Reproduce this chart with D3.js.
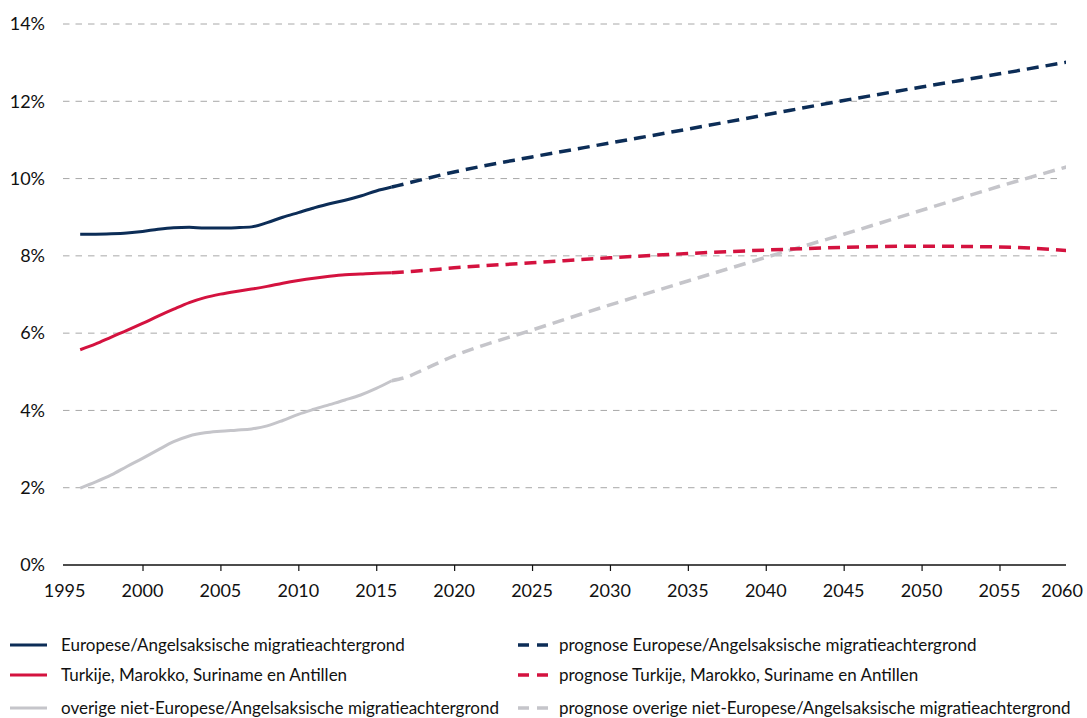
<!DOCTYPE html>
<html>
<head>
<meta charset="utf-8">
<script src="https://cdn.jsdelivr.net/npm/d3@7"></script>
<style>
  body { margin: 0; background: #fff; }
  svg { font-family: "Lato", "Open Sans", sans-serif; }
</style>
</head>
<body>
<script>
var histYears = [1996, 1997, 1998, 1999, 2000, 2001, 2002, 2003, 2004, 2005, 2006,
                 2007, 2008, 2009, 2010, 2011, 2012, 2013, 2014, 2015, 2016];
var histEuropees = [8.56, 8.56, 8.57, 8.59, 8.63, 8.69, 8.73, 8.74, 8.72, 8.72, 8.73,
                    8.75, 8.86, 9.00, 9.12, 9.24, 9.35, 9.44, 9.55, 9.68, 9.78];
var histTMSA = [5.57, 5.72, 5.90, 6.07, 6.25, 6.44, 6.62, 6.79, 6.92, 7.01, 7.08,
                7.14, 7.21, 7.29, 7.36, 7.42, 7.47, 7.51, 7.53, 7.55, 7.56];
var histOverig = [1.99, 2.15, 2.33, 2.55, 2.76, 2.98, 3.19, 3.34, 3.42, 3.46, 3.49,
                  3.52, 3.60, 3.74, 3.90, 4.03, 4.15, 4.27, 4.40, 4.57, 4.77];

var progYears = [2016, 2017, 2018, 2020, 2025, 2030, 2035, 2040, 2045, 2050, 2055, 2060];
var progEuropees = [9.78, 9.88, 9.98, 10.17, 10.56, 10.92, 11.28, 11.65, 12.02, 12.37, 12.71, 13.06];
var progTMSA = [7.56, 7.59, 7.62, 7.69, 7.82, 7.95, 8.06, 8.15, 8.22, 8.25, 8.23, 8.12];
var progOverig = [4.77, 4.87, 5.05, 5.41, 6.08, 6.73, 7.35, 7.96, 8.56, 9.18, 9.80, 10.38];

var xTicks = [1995, 2000, 2005, 2010, 2015, 2020, 2025, 2030, 2035, 2040, 2045, 2050, 2055, 2060];
var yTicks = [0, 2, 4, 6, 8, 10, 12, 14];

var legendLabels = [
  "Europese/Angelsaksische migratieachtergrond",
  "Turkije, Marokko, Suriname en Antillen",
  "overige niet-Europese/Angelsaksische migratieachtergrond"
];

var colors = ["#0c2d57", "#d4123f", "#c5c5ca"];

var svg = d3.select("body").append("svg")
      .attr("width", 1087)
      .attr("height", 718);

var x = d3.scaleLinear().domain([1995, 2060]).range([64.6, 1077.4]),
    y = d3.scaleLinear().domain([0, 14]).range([565, 24]);

var plotLeft = 63, plotRight = 1066;

svg.append("clipPath").attr("id", "clip")
  .append("rect")
    .attr("x", 0).attr("y", 0)
    .attr("width", plotRight).attr("height", 718);

// gridlines
svg.append("g")
  .selectAll("line")
  .data(yTicks.filter(function(d) { return d > 0; }))
  .enter().append("line")
    .attr("x1", plotLeft)
    .attr("x2", 1062)
    .attr("y1", function(d) { return y(d); })
    .attr("y2", function(d) { return y(d); })
    .attr("stroke", "#a8a8a8")
    .attr("stroke-width", 1)
    .attr("stroke-dasharray", "6.5,6");

// y labels
svg.append("g")
  .selectAll("text")
  .data(yTicks)
  .enter().append("text")
    .attr("x", 45)
    .attr("y", function(d) { return y(d); })
    .attr("dy", "0.35em")
    .attr("text-anchor", "end")
    .attr("font-size", 18)
    .attr("fill", "#111")
    .text(function(d) { return d + "%"; });

// x axis
var xAxis = d3.axisBottom(x)
    .tickValues(xTicks.slice(1, -1))
    .tickSize(6)
    .tickFormat("");

var xGroup = svg.append("g")
    .attr("transform", "translate(0," + y(0) + ")")
    .call(xAxis);
xGroup.select(".domain").remove();
xGroup.selectAll(".tick line").attr("stroke", "#111").attr("stroke-width", 1.2);
xGroup.append("line")
    .attr("x1", plotLeft).attr("x2", plotRight)
    .attr("stroke", "#111").attr("stroke-width", 1.4);

svg.append("g")
  .selectAll("text")
  .data(xTicks)
  .enter().append("text")
    .attr("x", function(d) { return d === 2060 ? 1083 : x(d); })
    .attr("y", 597)
    .attr("text-anchor", function(d) { return d === 2060 ? "end" : "middle"; })
    .attr("font-size", 18)
    .attr("fill", "#111")
    .text(function(d) { return d; });

var line = d3.line()
    .curve(d3.curveMonotoneX)
    .x(function(d) { return x(d[0]); })
    .y(function(d) { return y(d[1]); });

var hist = [histEuropees, histTMSA, histOverig].map(function(vals) {
  return histYears.map(function(yr, i) { return [yr, vals[i]]; });
});
var prog = [progEuropees, progTMSA, progOverig].map(function(vals) {
  return progYears.map(function(yr, i) { return [yr, vals[i]]; });
});

var lines = svg.append("g").attr("clip-path", "url(#clip)");

// draw grey first, then red, then navy
[2, 1, 0].forEach(function(i) {
  lines.append("path")
      .datum(prog[i])
      .attr("fill", "none")
      .attr("stroke", colors[i])
      .attr("stroke-width", 3.5)
      .attr("stroke-dasharray", "12,7")
      .attr("d", line);
  lines.append("path")
      .datum(hist[i])
      .attr("fill", "none")
      .attr("stroke", colors[i])
      .attr("stroke-width", 3)
      .attr("stroke-linejoin", "round")
      .attr("d", line);
});

// legend
var legend = svg.append("g");
var rowY = [645, 675, 708];

legendLabels.forEach(function(label, i) {
  legend.append("line")
      .attr("x1", 10).attr("x2", 47)
      .attr("y1", rowY[i]).attr("y2", rowY[i])
      .attr("stroke", colors[i]).attr("stroke-width", 3);
  legend.append("text")
      .attr("x", 61).attr("y", rowY[i])
      .attr("dy", "0.35em")
      .attr("font-size", 17)
      .attr("fill", "#111")
      .text(label);

  legend.append("line")
      .attr("x1", 518).attr("x2", 548)
      .attr("y1", rowY[i]).attr("y2", rowY[i])
      .attr("stroke", colors[i]).attr("stroke-width", 3.5)
      .attr("stroke-dasharray", "11,8");
  legend.append("text")
      .attr("x", 559).attr("y", rowY[i])
      .attr("dy", "0.35em")
      .attr("font-size", 17)
      .attr("fill", "#111")
      .text("prognose " + label);
});
</script>
</body>
</html>
